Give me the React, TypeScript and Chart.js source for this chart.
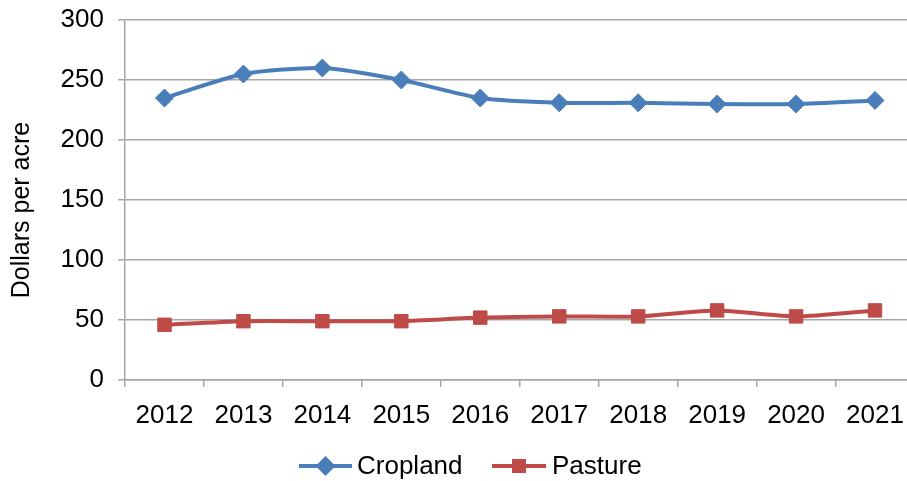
import React, { useEffect, useRef } from "react";
import { Chart, registerables } from "chart.js";

Chart.register(...registerables);

const years = ["2012", "2013", "2014", "2015", "2016", "2017", "2018", "2019", "2020", "2021"];
const cropland = [235, 255, 260, 250, 235, 231, 231, 230, 230, 233];
const pasture = [46, 49, 49, 49, 52, 53, 53, 58, 53, 58];
const yTicks = [0, 50, 100, 150, 200, 250, 300];
const yTitle = "Dollars per acre";

const BLUE = "#4A7EBB";
const RED = "#BE4B48";
const FONT = "'Liberation Sans', Arial, sans-serif";

const legendPlugin = {
  id: "customLegend",
  afterDraw(chart: any) {
    const ctx = chart.ctx;
    const y = 466;
    const items = [
      { x0: 299, x1: 352, tx: 357, style: "diamond" },
      { x0: 492, x1: 546, tx: 552, style: "square" },
    ];
    ctx.save();
    chart.data.datasets.forEach((ds: any, i: number) => {
      const it = items[i];
      const col = ds.borderColor;
      ctx.strokeStyle = col;
      ctx.fillStyle = col;
      ctx.lineWidth = 4;
      ctx.beginPath();
      ctx.moveTo(it.x0, y);
      ctx.lineTo(it.x1, y);
      ctx.stroke();
      const cx = (it.x0 + it.x1) / 2;
      ctx.beginPath();
      if (it.style === "diamond") {
        const r = 10;
        ctx.moveTo(cx, y - r);
        ctx.lineTo(cx + r, y);
        ctx.lineTo(cx, y + r);
        ctx.lineTo(cx - r, y);
        ctx.closePath();
      } else {
        const s = 7;
        ctx.rect(cx - s, y - s, 2 * s, 2 * s);
      }
      ctx.fill();
      ctx.fillStyle = "#000";
      ctx.font = `26px ${FONT}`;
      ctx.textBaseline = "middle";
      ctx.textAlign = "left";
      ctx.fillText(ds.label, it.tx, y + 1);
    });
    // y-axis title
    ctx.translate(22, 210);
    ctx.rotate(-Math.PI / 2);
    ctx.fillStyle = "#000";
    ctx.font = `25px ${FONT}`;
    ctx.textAlign = "center";
    ctx.textBaseline = "middle";
    ctx.fillText(yTitle, 0, 0);
    ctx.restore();
  },
};

export default function App() {
  const ref = useRef<HTMLCanvasElement | null>(null);
  useEffect(() => {
    document.body.style.margin = "0";
    const canvas = ref.current!;
    const chart = new Chart(canvas, {
      type: "line",
      data: {
        labels: years,
        datasets: [
          {
            label: "Cropland",
            data: cropland,
            borderColor: BLUE,
            backgroundColor: BLUE,
            borderWidth: 4,
            pointStyle: "rectRot",
            pointRadius: 9,
            pointBorderWidth: 1,
            pointBackgroundColor: BLUE,
            pointBorderColor: BLUE,
            tension: 0.22,
          },
          {
            label: "Pasture",
            data: pasture,
            borderColor: RED,
            backgroundColor: RED,
            borderWidth: 4,
            pointStyle: "rect",
            pointRadius: 9.5,
            pointBorderWidth: 1,
            pointBackgroundColor: RED,
            pointBorderColor: RED,
            tension: 0.22,
          },
        ],
      },
      options: {
        animation: false,
        responsive: false,
        maintainAspectRatio: false,
        layout: { padding: { top: 20, right: 0, bottom: 45, left: 0 } },
        plugins: {
          legend: { display: false },
          tooltip: { enabled: false },
          title: { display: false },
        },
        scales: {
          x: {
            type: "category",
            offset: true,
            grid: {
              offset: true,
              drawOnChartArea: false,
              drawTicks: true,
              tickLength: 7,
              color: "#A6A6A6",
              lineWidth: 1.5,
            },
            border: { display: true, color: "#A6A6A6", width: 1.5 },
            ticks: {
              color: "#000",
              font: { family: FONT, size: 26 },
              padding: 13,
              maxRotation: 0,
              autoSkip: false,
            },
            afterFit(scale: any) {
              scale.height = 56;
              scale.paddingLeft = 0;
              scale.paddingRight = 0;
              scale.paddingTop = 0;
              scale.paddingBottom = 0;
            },
          },
          y: {
            min: 0,
            max: 300,
            afterBuildTicks(scale: any) {
              scale.ticks = yTicks.map((v) => ({ value: v }));
            },
            grid: {
              color: "#A6A6A6",
              lineWidth: 1.5,
              drawTicks: true,
              tickLength: 7,
            },
            border: { display: true, color: "#A6A6A6", width: 1.5 },
            ticks: {
              color: "#000",
              font: { family: FONT, size: 26 },
              padding: 14,
            },
            title: { display: false },
            afterFit(scale: any) {
              scale.width = 125;
              scale.paddingLeft = 0;
              scale.paddingRight = 0;
              scale.paddingTop = 0;
              scale.paddingBottom = 0;
            },
          },
        },
      },
      plugins: [legendPlugin],
    });
    return () => chart.destroy();
  }, []);
  return (
    <div style={{ width: 907, height: 481, overflow: "hidden" }}>
      <canvas ref={ref} width={925} height={481} style={{ display: "block" }} />
    </div>
  );
}
